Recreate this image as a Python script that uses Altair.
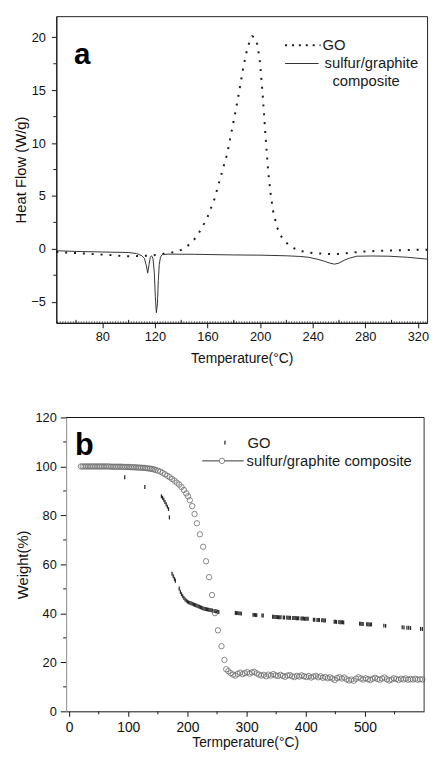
import altair as alt
import pandas as pd

FONT = "Liberation Sans"

# ---------------- panel a : DSC ----------------
a_go_T = [45, 50, 60, 70, 80, 90, 96, 102, 110, 118, 125, 130, 135, 140, 145, 150, 155, 160,
          165, 170, 175, 178, 181, 184, 187, 190, 192, 194, 196, 198, 200, 202, 204, 206,
          208, 210, 213, 217, 222, 226, 230, 240, 250, 260, 270, 280, 290, 300, 310, 327]
a_go_HF = [-0.3, -0.33, -0.4, -0.48, -0.55, -0.62, -0.7, -0.7, -0.68, -0.62, -0.5, -0.42,
           -0.3, -0.1, 0.3, 0.9, 1.8, 3.0, 4.6, 6.8, 9.0, 10.9, 12.8, 14.8, 17.0, 18.8, 19.6,
           20.1, 20.0, 19.3, 17.5, 14.5, 10.9, 7.5, 5.2, 3.5, 2.0, 0.95, 0.35, 0.05, -0.2,
           -0.4, -0.48, -0.5, -0.35, -0.25, -0.2, -0.15, -0.12, -0.08]

a_sg_T = [45, 60, 80, 100, 106, 110, 112, 113.5, 114.5, 115.5, 116.5, 117.4, 118.5, 119.5,
          120.3, 121.1, 121.9, 122.6, 123.3, 124.2, 125.5, 130, 150, 180, 200, 220, 230,
          237, 244, 249, 253, 256.5, 260, 264, 268, 273.6, 285, 298, 312, 325, 327]
a_sg_HF = [-0.18, -0.25, -0.3, -0.35, -0.45, -0.65, -0.9, -1.6, -2.3, -1.5, -0.8, -0.65,
           -0.9, -2.2, -4.5, -6.05, -5.2, -3.0, -1.5, -0.8, -0.55, -0.5, -0.52, -0.58, -0.6,
           -0.66, -0.72, -0.8, -1.0, -1.18, -1.35, -1.45, -1.35, -1.08, -0.88, -0.7, -0.68,
           -0.7, -0.8, -0.95, -0.97]

a_x_major = [80, 120, 160, 200, 240, 280, 320]
a_x_mid = [60, 100, 140, 180, 220, 260, 300]
a_x_tiny = [t for t in range(46, 327, 2)]
a_y_major = [-5, 0, 5, 10, 15, 20]
a_y_minor = [-2.5, 2.5, 7.5, 12.5, 17.5]

# ---------------- panel b : TGA ----------------
b_go_T = [94, 128, 156, 158, 160, 162, 164, 166, 168, 169.5,
          174, 176, 178, 179.5,
          186, 188, 190, 192, 194, 196, 198, 200, 202, 204, 206, 208, 210, 212, 214, 216,
          218, 220, 222, 224, 226, 228, 230, 232, 234, 236, 238, 240, 242, 245, 247, 249,
          251, 253,
          281, 283, 285, 287, 289, 291,
          311, 313, 315, 317, 326, 328,
          344, 346, 348, 350, 352, 354, 356, 358, 362, 364, 368, 370, 372, 374, 378, 380,
          382, 384, 386, 388, 392, 394, 396, 398, 400, 402, 404,
          413, 415, 419, 421, 423, 427, 429, 431, 433,
          448, 450, 452, 456, 458, 460, 462, 464,
          491, 493, 495, 497, 503, 505, 507, 509, 511,
          532, 535,
          563, 566, 571, 574, 577,
          594, 597]
b_go_W = [95.6, 91.6, 87.8, 87.2, 86.4, 85.5, 84.6, 83.6, 82.6, 79.2,
          56.2, 55.2, 54.1, 53.3,
          50.2, 48.8, 47.8, 47.0, 46.3, 45.7, 45.2, 44.8, 44.5, 44.3, 44.1, 43.9, 43.7, 43.5,
          43.3, 43.1, 42.9, 42.7, 42.5, 42.3, 42.1, 41.9, 41.8, 41.7, 41.6, 41.5, 41.4, 41.3,
          41.2, 41.0, 40.9, 40.8, 40.7, 40.6,
          40.2, 40.1, 40.1, 40.0, 40.0, 39.9,
          39.4, 39.4, 39.3, 39.3, 39.1, 39.1,
          38.6, 38.6, 38.5, 38.5, 38.5, 38.4, 38.4, 38.4, 38.3, 38.3, 38.3, 38.2, 38.2, 38.2,
          38.1, 38.1, 38.1, 38.0, 38.0, 38.0, 37.9, 37.9, 37.9, 37.8, 37.8, 37.8, 37.8,
          37.4, 37.4, 37.3, 37.3, 37.3, 37.2, 37.2, 37.1, 37.1,
          36.6, 36.6, 36.5, 36.5, 36.4, 36.4, 36.4, 36.3,
          35.8, 35.8, 35.7, 35.7, 35.6, 35.6, 35.5, 35.5, 35.5,
          35.0, 34.9,
          34.3, 34.2, 34.1, 34.1, 34.0,
          33.7, 33.6]

b_sg_T = [20, 23, 26, 29, 32, 35, 38, 41, 44, 47, 50, 53, 56, 59, 62, 65, 68, 71, 74, 77,
          80, 83, 86, 89, 92, 95, 98, 101, 104, 107, 110, 113, 116, 119, 122, 125, 128, 131,
          134, 137, 140, 143, 146, 150, 154, 158, 162, 166, 170, 174, 178, 182, 186, 190,
          194, 198, 201, 204, 208, 212, 216, 221, 226.5, 231.5, 236.5, 241.5, 246.5, 251.5,
          257.5, 262.5, 265.5,
          269, 273, 277, 281, 285, 289, 293, 297, 301, 305, 309, 313, 317, 321, 325, 329,
          333, 337, 341, 345, 349, 353, 357, 361, 365, 369, 373, 377, 381, 385, 389, 393,
          397, 401, 405, 409, 413, 417, 421, 425, 429, 433, 437, 441, 445, 449, 453, 457,
          461, 465, 469, 473, 477, 481, 485, 489, 493, 497, 501, 505, 509, 513, 517, 521,
          525, 529, 533, 537, 541, 545, 549, 553, 557, 561, 565, 569, 573, 577, 581, 585,
          589, 593, 597]
b_sg_W = [100.0, 100.0, 100.0, 100.0, 100.0, 100.0, 100.0, 100.0, 100.0, 100.0, 100.0,
          100.0, 100.0, 100.0, 100.0, 100.0, 100.0, 99.9, 99.9, 99.9, 99.9, 99.9, 99.9, 99.9,
          99.8, 99.8, 99.8, 99.8, 99.7, 99.7, 99.7, 99.6, 99.6, 99.5, 99.5, 99.4, 99.4, 99.3,
          99.2, 99.1, 99.0, 98.8, 98.6, 98.3, 97.9, 97.4, 96.8, 96.2, 95.6, 94.9, 94.2, 93.4,
          92.6, 91.6, 90.4, 89.0, 87.8, 86.2, 83.8, 80.6, 76.8, 72.3, 67.2, 61.3, 54.8, 47.5,
          40.1, 33.1, 26.6, 21.0, 17.2,
          16.4, 15.6, 15.0, 14.6, 15.3, 15.8, 15.2, 15.6, 16.0, 15.4, 15.9, 16.1, 15.5, 15.0,
          14.6, 14.9, 14.3, 15.0, 14.6, 15.2, 14.7, 14.4, 14.9, 14.5, 14.1, 14.6, 14.8, 14.3,
          14.0, 14.5, 14.2, 14.7, 14.3, 14.0, 14.4, 13.8, 14.2, 14.5, 13.9, 14.3, 13.7, 14.0,
          13.5, 13.9, 13.4, 12.8, 13.6, 14.0, 13.4, 13.8, 13.1, 12.6, 13.0, 12.5, 13.3, 13.9,
          13.4, 13.0, 13.5, 13.1, 12.8, 13.3, 13.7, 13.2, 12.9, 13.4, 13.8, 13.1, 12.6, 13.0,
          13.5, 13.2, 12.8, 13.3, 13.0, 13.4, 12.9, 13.2, 13.0, 13.3, 12.9, 13.1, 13.0]

b_x_major = [0, 100, 200, 300, 400, 500]
b_x_minor = [50, 150, 250, 350, 450, 550]
b_y_major = [0, 20, 40, 60, 80, 100, 120]
b_y_minor = [10, 30, 50, 70, 90, 110]

one = pd.DataFrame({"k": [0]})
INK = "#1a1a1a"

# ======== panel a ========
AW, AH = 376, 311
ax_x = alt.X("T:Q", scale=alt.Scale(domain=[45, 327], nice=False, zero=False),
             axis=alt.Axis(values=a_x_major, title="Temperature(°C)", tickSize=5,
                           labelFontSize=13, labelPadding=3, titleFontSize=14,
                           titlePadding=8, grid=False, format="d"))
ax_y = alt.Y("V:Q", scale=alt.Scale(domain=[-7, 22], nice=False, zero=False),
             axis=alt.Axis(values=a_y_major, title="Heat Flow (W/g)", tickSize=5,
                           labelFontSize=13, labelPadding=6, titleFontSize=15,
                           titlePadding=2, grid=False, format="d"))

a_go = alt.Chart(pd.DataFrame({"T": a_go_T, "V": a_go_HF})).mark_line(
    color=INK, strokeWidth=2, strokeDash=[2, 7]).encode(x=ax_x, y=ax_y, order="T:Q")
a_sg = alt.Chart(pd.DataFrame({"T": a_sg_T, "V": a_sg_HF})).mark_line(
    color="#333333", strokeWidth=1).encode(x=ax_x, y=ax_y, order="T:Q")

a_mid = alt.Chart(pd.DataFrame({"T": a_x_mid})).mark_rule(color=INK, strokeWidth=1).encode(
    x=ax_x, y=alt.value(AH), y2=alt.value(AH - 3))
a_tiny = alt.Chart(pd.DataFrame({"T": a_x_tiny})).mark_rule(color=INK, strokeWidth=0.8).encode(
    x=ax_x, y=alt.value(AH), y2=alt.value(AH - 1.5))
a_ymin = alt.Chart(pd.DataFrame({"V": a_y_minor})).mark_rule(color=INK, strokeWidth=1).encode(
    y=ax_y, x=alt.value(0), x2=alt.value(-3))

a_lbl = alt.Chart(one).mark_text(text="a", font=FONT, fontSize=30, fontWeight="bold",
                                 align="left", baseline="alphabetic", color="black").encode(
    x=alt.value(18), y=alt.value(48.5))
a_leg_go_line = alt.Chart(one).mark_rule(color=INK, strokeWidth=2, strokeDash=[2, 5]).encode(
    x=alt.value(232), x2=alt.value(268), y=alt.value(29.5))
a_leg_go_txt = alt.Chart(one).mark_text(text="GO", font=FONT, fontSize=15, align="left",
                                        baseline="middle", color=INK).encode(
    x=alt.value(270), y=alt.value(29.5))
a_leg_sg_line = alt.Chart(one).mark_rule(color="#333333", strokeWidth=1).encode(
    x=alt.value(232), x2=alt.value(266), y=alt.value(48))
a_leg_sg_txt1 = alt.Chart(one).mark_text(text="sulfur/graphite", font=FONT, fontSize=15,
                                         align="left", baseline="middle", color=INK).encode(
    x=alt.value(272), y=alt.value(48))
a_leg_sg_txt2 = alt.Chart(one).mark_text(text="composite", font=FONT, fontSize=15,
                                         align="left", baseline="middle", color=INK).encode(
    x=alt.value(280), y=alt.value(66))

top = alt.layer(a_go, a_sg, a_mid, a_tiny, a_ymin, a_lbl, a_leg_go_line, a_leg_go_txt,
                a_leg_sg_line, a_leg_sg_txt1, a_leg_sg_txt2).properties(width=AW, height=AH)

# ======== panel b ========
# the frame of panel b starts SH px right of the origin it shares with panel a
SH = 10
BW, BH = 373, 298
bx_x = alt.X("T:Q", scale=alt.Scale(domain=[-5, 600], nice=False, zero=False, range=[SH, BW]),
             axis=alt.Axis(values=b_x_major, title="Termperature(°C)", tickSize=5,
                           labelFontSize=14, labelPadding=4, titleFontSize=14,
                           titlePadding=2, grid=False, format="d"))
bx_y = alt.Y("V:Q", scale=alt.Scale(domain=[0, 120], nice=False, zero=False),
             axis=alt.Axis(values=b_y_major, title="Weight(%)", tickSize=6, offset=-SH,
                           labelFontSize=13, labelPadding=4, titleFontSize=15,
                           titlePadding=5, grid=False, format="d", domainColor="#8a8a8a"))

b_go = alt.Chart(pd.DataFrame({"T": b_go_T, "V": b_go_W})).mark_point(
    shape="M0,-1L0,1", size=16, strokeWidth=1.3, color="#2a2a2a", opacity=1).encode(
    x=bx_x, y=bx_y)
b_sg = alt.Chart(pd.DataFrame({"T": b_sg_T, "V": b_sg_W})).mark_point(
    shape="circle", filled=False, size=30, strokeWidth=0.8, color="#6a6a6a", opacity=1).encode(
    x=bx_x, y=bx_y)

b_xmin = alt.Chart(pd.DataFrame({"T": b_x_minor})).mark_rule(color=INK, strokeWidth=1).encode(
    x=bx_x, y=alt.value(BH), y2=alt.value(BH + 3))
b_ymin = alt.Chart(pd.DataFrame({"V": b_y_minor})).mark_rule(color=INK, strokeWidth=1).encode(
    y=bx_y, x=alt.value(SH), x2=alt.value(SH - 3))
b_frame_top = alt.Chart(one).mark_rule(color="#111111", strokeWidth=1).encode(
    x=alt.value(SH), x2=alt.value(BW), y=alt.value(0))
b_frame_right = alt.Chart(one).mark_rule(color="#333333", strokeWidth=1).encode(
    x=alt.value(BW), y=alt.value(0), y2=alt.value(BH))

b_lbl = alt.Chart(one).mark_text(text="b", font=FONT, fontSize=31, fontWeight="bold",
                                 align="left", baseline="alphabetic", color="black").encode(
    x=alt.value(SH + 9), y=alt.value(38))
b_leg_go_sym = alt.Chart(one).mark_point(shape="M0,-1L0,1", size=16, strokeWidth=1.3,
                                         color="#2a2a2a", opacity=1).encode(
    x=alt.value(SH + 161), y=alt.value(25.5))
b_leg_go_txt = alt.Chart(one).mark_text(text="GO", font=FONT, fontSize=15, align="left",
                                        baseline="middle", color=INK).encode(
    x=alt.value(SH + 184), y=alt.value(25.5))
b_leg_sg_line = alt.Chart(one).mark_rule(color="#333333", strokeWidth=1).encode(
    x=alt.value(SH + 138), x2=alt.value(SH + 180), y=alt.value(44))
b_leg_sg_sym = alt.Chart(one).mark_point(shape="circle", filled=True, fill="white", size=30,
                                         stroke="#6a6a6a", strokeWidth=0.8, opacity=1).encode(
    x=alt.value(SH + 158), y=alt.value(44))
b_leg_sg_txt = alt.Chart(one).mark_text(text="sulfur/graphite composite", font=FONT,
                                        fontSize=15, align="left", baseline="middle",
                                        color=INK).encode(x=alt.value(SH + 183), y=alt.value(44))

bottom = alt.layer(b_go, b_sg, b_xmin, b_ymin, b_frame_top, b_frame_right, b_lbl,
                   b_leg_go_sym, b_leg_go_txt, b_leg_sg_line, b_leg_sg_sym,
                   b_leg_sg_txt).properties(width=BW, height=BH,
                                            view=alt.ViewBackground(strokeWidth=0))

chart = alt.vconcat(top, bottom, spacing=46).properties(
    padding={"left": 5, "top": 2, "right": 0, "bottom": 0}
).configure(font=FONT).configure_view(
    stroke="#222222", strokeWidth=1
).configure_axis(
    domainColor="#111111", tickColor="#111111", labelColor="#111111", titleColor="#111111",
    labelFont=FONT, titleFont=FONT, titleFontWeight="normal", domainWidth=1
)

chart.save("out.html", embed_options={"renderer": "svg", "actions": False})
